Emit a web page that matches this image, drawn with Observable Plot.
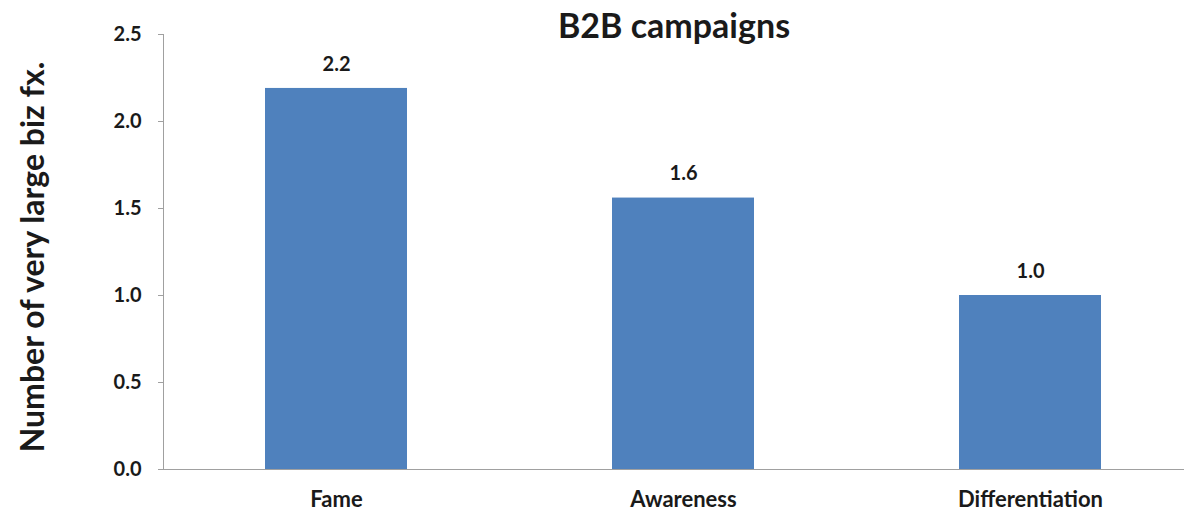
<!DOCTYPE html>
<html>
<head>
<meta charset="utf-8">
<script src="https://cdn.jsdelivr.net/npm/d3@7"></script>
<script src="https://cdn.jsdelivr.net/npm/@observablehq/plot@0.6"></script>
<style>
  html, body { margin: 0; padding: 0; background: #fff; }
  #chart svg { display: block; }
</style>
</head>
<body>
<div id="chart"></div>
<script>
const categories = ["Fame", "Awareness", "Differentiation"];
const values = [2.19, 1.56, 1.0];
const yTicks = [0, 0.5, 1.0, 1.5, 2.0, 2.5];
const title = "B2B campaigns";
const yLabel = "Number of very large biz fx.";

const data = categories.map((c, i) => ({category: c, value: values[i]}));
const font = "Lato, 'Open Sans', sans-serif";

const chart = Plot.plot({
  width: 1184,
  height: 514,
  marginTop: 34,
  marginBottom: 45,
  marginLeft: 163,
  marginRight: 0,
  style: {fontFamily: font, background: "#fff"},
  x: {domain: categories, range: [163, 1204], paddingInner: 0.59, paddingOuter: 0.295, align: 0.5},
  y: {domain: [0, 2.5]},
  marks: [
    Plot.barY(data, {x: "category", y: "value", fill: "#4F81BD"}),
    Plot.text(data, {x: "category", y: "value", text: d => d.value.toFixed(1), dy: -24, fontSize: 20, fontWeight: "bold", fill: "#1a1a1a"}),
    Plot.frame({anchor: "left", stroke: "#a0a0a0"}),
    Plot.ruleY([0], {stroke: "#a0a0a0"}),
    Plot.axisY({ticks: yTicks, tickFormat: d => d.toFixed(1), tickSize: 5, tickPadding: 17, fontSize: 20, fontWeight: "bold", stroke: "#a0a0a0", color: "#1a1a1a", label: null}),
    Plot.axisX({tickSize: 0, tickPadding: 22, fontSize: 22, fontWeight: "bold", color: "#1a1a1a", label: null}),
    Plot.text([title], {frameAnchor: "top", lineAnchor: "middle", dy: -7, fontSize: 34, fontWeight: "bold", fill: "#1a1a1a"}),
    Plot.text([yLabel], {frameAnchor: "left", textAnchor: "middle", dx: -130, dy: 5, rotate: -90, fontSize: 32, fontWeight: "bold", fill: "#1a1a1a"})
  ]
});
document.getElementById("chart").appendChild(chart);
</script>
</body>
</html>
